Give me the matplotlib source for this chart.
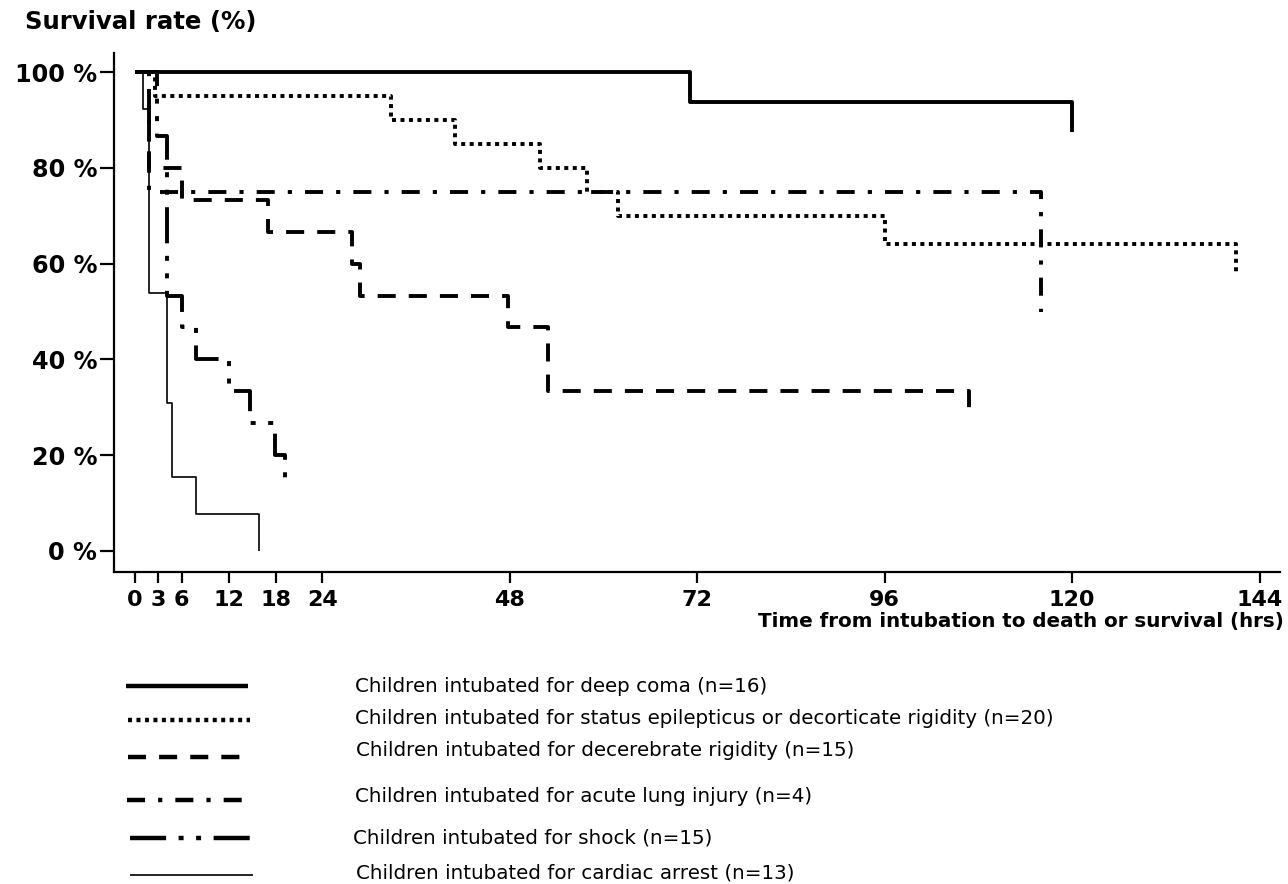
import matplotlib
matplotlib.use("Agg")
import matplotlib.pyplot as plt
from matplotlib.lines import Line2D

plt.rcParams['font.family'] = 'DejaVu Sans'
plt.rcParams['lines.scale_dashes'] = False

# Kaplan-Meier steps (hours, % surviving)
coma_t = [0, 71, 120]
coma_s = [100, 93.75, 87.5]

epi_t = [0, 2.5, 32.8, 41, 51.9, 57.9, 61.8, 96, 141]
epi_s = [100, 95, 90, 85, 80, 75, 70, 64.2, 58.3]

decer_t = [0, 1.8, 6, 17, 27.8, 28.8, 47.8, 52.9, 106.8]
decer_s = [100, 80, 73.3, 66.7, 60, 53.3, 46.7, 33.3, 27.8]

lung_t = [0, 1.8, 116]
lung_s = [100, 75, 50]

shock_t = [0, 2.8, 4.1, 6, 7.8, 12, 14.7, 17.9, 19.2]
shock_s = [100, 86.7, 53.3, 46.7, 40, 33.3, 26.7, 20, 13.3]

cardiac_t = [0, 1.0, 1.8, 4.1, 4.8, 7.8, 15.9]
cardiac_s = [100, 92.3, 53.8, 30.8, 15.4, 7.7, 0]

labels = [
    "Children intubated for deep coma (n=16)",
    "Children intubated for status epilepticus or decorticate rigidity (n=20)",
    "Children intubated for decerebrate rigidity (n=15)",
    "Children intubated for acute lung injury (n=4)",
    "Children intubated for shock (n=15)",
    "Children intubated for cardiac arrest (n=13)",
]

x_ticks = [0, 3, 6, 12, 18, 24, 48, 72, 96, 120, 144]
y_ticks = [0, 20, 40, 60, 80, 100]

W, H = 1288, 884
fig = plt.figure(figsize=(W / 100, H / 100), dpi=100)

def fx(px):
    return px / W

def fy(py):
    return 1 - py / H

ax = fig.add_axes([fx(114), fy(572), fx(1280) - fx(114), fy(53) - fy(572)])

# line styles (pattern in points)
styles = [
    dict(lw=2.8, ls='-'),
    dict(lw=2.8, ls=(0, (2.9, 3.2))),
    dict(lw=2.8, ls=(0, (13, 9.4))),
    dict(lw=2.8, ls=(0, (13, 9.4, 3, 9.4))),
    dict(lw=2.8, ls=(0, (26, 9, 3.6, 9, 3.6, 9))),
    dict(lw=1.2, ls='-'),
]

series = [(coma_t, coma_s), (epi_t, epi_s), (decer_t, decer_s),
          (lung_t, lung_s), (shock_t, shock_s), (cardiac_t, cardiac_s)]

for (t, s), st in zip(series, styles):
    ax.step(t, s, where='post', color='black', linewidth=st['lw'],
            linestyle=st['ls'], dash_capstyle='butt', solid_capstyle='butt')

ax.set_xlim(-2.69, 146.6)
ax.set_ylim(-4.4, 104)
ax.set_xticks(x_ticks)
ax.set_xticklabels([str(v) for v in x_ticks])
ax.set_yticks(y_ticks)
ax.set_yticklabels([f"{v} %" for v in y_ticks])

for side in ['top', 'right']:
    ax.spines[side].set_visible(False)
for side in ['left', 'bottom']:
    ax.spines[side].set_linewidth(1.6)

ax.tick_params(axis='x', length=8, width=1.6, pad=5, labelsize=16)
ax.tick_params(axis='y', length=10, width=1.6, pad=2, labelsize=17.2)
for lab in ax.get_xticklabels() + ax.get_yticklabels():
    lab.set_fontweight('bold')

fig.text(fx(25), fy(22), "Survival rate (%)", fontsize=17.6, fontweight='bold',
         ha='left', va='center')
fig.text(fx(1284), fy(622), "Time from intubation to death or survival (hrs)",
         fontsize=14.3, fontweight='bold', ha='right', va='center')

# hand-made legend under the axes
leg_rows = [686, 720, 757, 800, 838, 875]
text_rows = [686, 718, 750, 797, 838, 873]
line_x = [(126, 248), (128, 250), (128, 240), (127, 245), (130, 252), (130, 253)]
text_x = [355, 355, 356, 355, 353, 356]

for st, ly, ty, (x0, x1), tx, lab in zip(styles, leg_rows, text_rows, line_x, text_x, labels):
    fig.add_artist(Line2D([fx(x0), fx(x1)], [fy(ly), fy(ly)], color='black',
                          linewidth=st['lw'] + (0.4 if st['lw'] > 2 else 0),
                          linestyle=st['ls'],
                          dash_capstyle='butt', solid_capstyle='butt'))
    fig.text(fx(tx), fy(ty), lab, fontsize=14.3, ha='left', va='center')

fig.savefig("out.png", dpi=100)
